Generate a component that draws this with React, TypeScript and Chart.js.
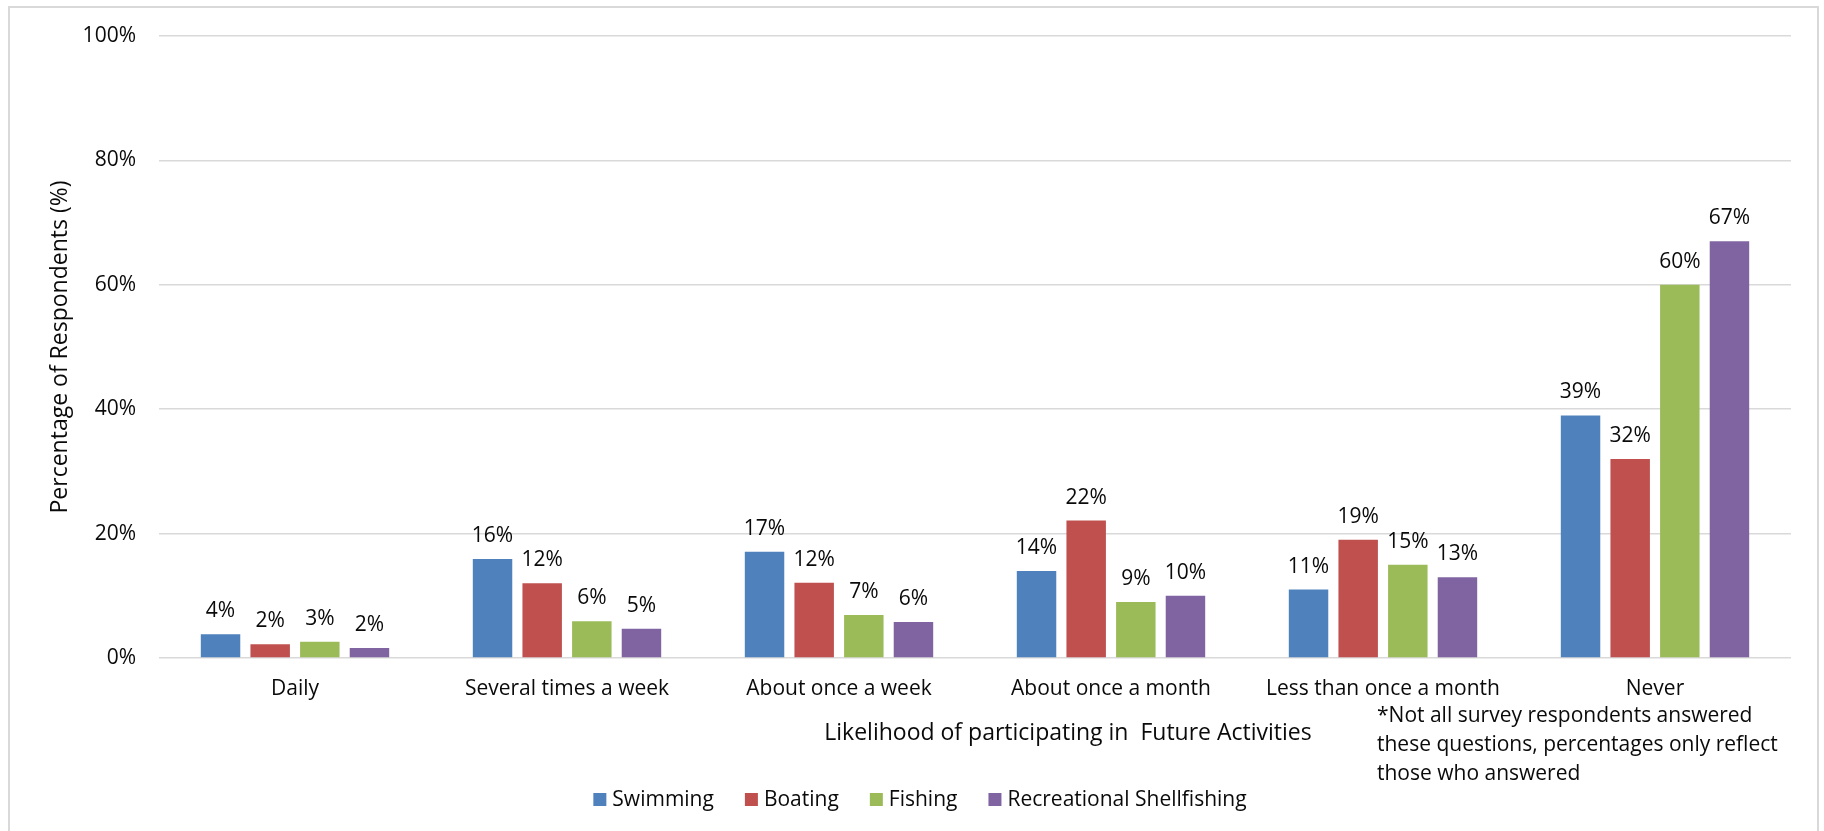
import React, { useEffect, useRef } from "react";
import { Chart, registerables } from "chart.js";

Chart.register(...registerables);

// ---------- data ----------
const categories = [
  "Daily",
  "Several times a week",
  "About once a week",
  "About once a month",
  "Less than once a month",
  "Never",
];
const seriesNames = ["Swimming", "Boating", "Fishing", "Recreational Shellfishing"];
const swimming = [3.8, 15.9, 17.1, 14.0, 11.0, 39.0];
const boating = [2.2, 12.0, 12.1, 22.1, 19.0, 32.0];
const fishing = [2.6, 5.9, 6.9, 9.0, 15.0, 60.0];
const shellfishing = [1.6, 4.7, 5.8, 10.0, 13.0, 67.0];
const seriesColors = ["#4F81BD", "#C0504D", "#9BBB59", "#8064A2"];
const yMin = 0;
const yMax = 100;
const yStep = 20;
const xAxisTitle = "Likelihood of participating in  Future Activities";
const yAxisTitle = "Percentage of Respondents (%)";
const footnoteLines = [
  "*Not all survey respondents answered",
  "these questions, percentages only reflect",
  "those who answered",
];

// ---------- style ----------
const W = 1824;
const H = 831;
const FONT = '"Open Sans", sans-serif';
const TEXT = "#0a0a0a";
const GRID = "#D9D9D9";
const LABEL_SIZE = 21;
const TITLE_SIZE = 23;

const decorPlugin = {
  id: "decor",
  afterDatasetsDraw(chart: any) {
    const ctx = chart.ctx as CanvasRenderingContext2D;
    ctx.save();
    ctx.font = `${LABEL_SIZE}px ${FONT}`;
    ctx.fillStyle = TEXT;
    ctx.textAlign = "center";
    ctx.textBaseline = "alphabetic";
    chart.data.datasets.forEach((ds: any, i: number) => {
      const meta = chart.getDatasetMeta(i);
      meta.data.forEach((el: any, j: number) => {
        const v = ds.data[j] as number;
        ctx.fillText(`${Math.round(v)}%`, el.x, el.y - 17);
      });
    });
    ctx.restore();
  },
  afterDraw(chart: any) {
    const ctx = chart.ctx as CanvasRenderingContext2D;
    const area = chart.chartArea;
    const cx = (area.left + area.right) / 2;
    const cy = (area.top + area.bottom) / 2;

    ctx.save();
    ctx.fillStyle = TEXT;

    // y-axis title
    ctx.save();
    ctx.font = `${TITLE_SIZE}px ${FONT}`;
    ctx.translate(area.left - 92, cy);
    ctx.rotate(-Math.PI / 2);
    ctx.textAlign = "center";
    ctx.textBaseline = "alphabetic";
    ctx.fillText(yAxisTitle, 0, 0);
    ctx.restore();

    // x-axis title
    ctx.font = `${TITLE_SIZE}px ${FONT}`;
    ctx.textAlign = "center";
    ctx.textBaseline = "alphabetic";
    ctx.fillText(xAxisTitle, cx + 93, area.bottom + 82);

    // legend
    ctx.font = `${LABEL_SIZE}px ${FONT}`;
    const box = 13;
    const gap = 6;
    const spacing = 31;
    const widths = seriesNames.map((n) => ctx.measureText(n).width);
    const total =
      widths.reduce((a, b) => a + b, 0) + seriesNames.length * (box + gap) + spacing * (seriesNames.length - 1);
    let x = cx - 55 - total / 2;
    const baseY = area.bottom + 148;
    ctx.textAlign = "left";
    seriesNames.forEach((n, i) => {
      ctx.fillStyle = seriesColors[i];
      ctx.fillRect(x, baseY - box, box, box);
      ctx.fillStyle = TEXT;
      ctx.fillText(n, x + box + gap, baseY);
      x += box + gap + widths[i] + spacing;
    });

    // footnote
    ctx.textAlign = "left";
    footnoteLines.forEach((line, i) => {
      ctx.fillText(line, area.right - 414, area.bottom + 64 + i * 29);
    });

    ctx.restore();
  },
};

export default function App() {
  const canvasRef = useRef<HTMLCanvasElement | null>(null);

  useEffect(() => {
    let chart: Chart | null = null;
    let cancelled = false;
    const build = () => {
      if (cancelled || !canvasRef.current) return;
      const datasetsValues = [swimming, boating, fishing, shellfishing];
      chart = new Chart(canvasRef.current, {
        type: "bar",
        data: {
          labels: categories,
          datasets: datasetsValues.map((vals, i) => ({
            label: seriesNames[i],
            data: vals,
            backgroundColor: seriesColors[i],
            borderWidth: 0,
            categoryPercentage: 0.73,
            barPercentage: 0.795,
          })),
        },
        options: {
          responsive: false,
          animation: false,
          devicePixelRatio: 1,
          layout: { padding: { top: 36, right: 33, left: 0, bottom: 0 } },
          plugins: {
            legend: { display: false },
            tooltip: { enabled: false },
            title: { display: false },
          },
          scales: {
            x: {
              grid: { display: false },
              border: { display: false },
              ticks: {
                autoSkip: false,
                maxRotation: 0,
                minRotation: 0,
                padding: 10,
                color: TEXT,
                font: { family: FONT, size: LABEL_SIZE },
              },
              afterFit: (scale: any) => {
                scale.height = 173;
              },
            },
            y: {
              min: yMin,
              max: yMax,
              grid: { color: GRID, lineWidth: 1.5, drawTicks: false },
              border: { display: false },
              ticks: {
                stepSize: yStep,
                padding: 23,
                color: TEXT,
                font: { family: FONT, size: LABEL_SIZE },
                callback: (v: any) => `${v}%`,
              },
              afterFit: (scale: any) => {
                scale.width = 159;
              },
            },
          },
        },
        plugins: [decorPlugin],
      });
    };
    const fontsReady = (document as any).fonts
      ? Promise.all([
          (document as any).fonts.load(`${LABEL_SIZE}px "Open Sans"`),
          (document as any).fonts.load(`${TITLE_SIZE}px "Open Sans"`),
        ]).catch(() => null)
      : Promise.resolve(null);
    fontsReady.then(build);
    return () => {
      cancelled = true;
      if (chart) chart.destroy();
    };
  }, []);

  return (
    <div
      style={{
        position: "fixed",
        left: 0,
        top: 0,
        width: W,
        height: H,
        background: "#ffffff",
        overflow: "hidden",
      }}
    >
      <canvas ref={canvasRef} width={W} height={H} style={{ position: "absolute", left: 0, top: 0 }} />
      <div
        style={{
          position: "absolute",
          left: 8,
          top: 6,
          width: 1811,
          height: 900,
          boxSizing: "border-box",
          border: "2px solid #D9D9D9",
          pointerEvents: "none",
        }}
      />
    </div>
  );
}
